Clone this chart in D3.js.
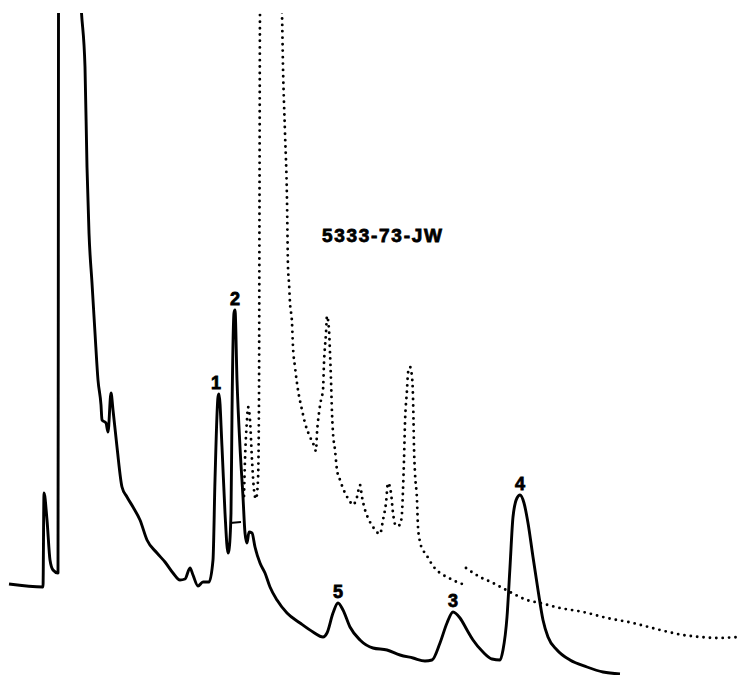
<!DOCTYPE html>
<html>
<head>
<meta charset="utf-8">
<script src="https://cdn.jsdelivr.net/npm/d3@7"></script>
<style>
  body { margin: 0; background: #fff; }
  svg { display: block; }
  .peak-label { font-family: "Liberation Sans", Arial, sans-serif; font-weight: bold; font-size: 18px; stroke: #000; stroke-width: 0.8px; }
  .sample-id { font-family: "Liberation Sans", Arial, sans-serif; font-weight: bold; font-size: 19px; letter-spacing: 1.7px; stroke: #000; stroke-width: 0.8px; }
</style>
</head>
<body>
<script>
// chromatogram traces: [retention time, detector response]
// the solid run
const solidTrace = [
  [0.9, 9.1], [4.3, 8.8], [4.4, 18.2], [4.7, 15.5], [5.0, 11.5], [5.3, 10.5], [5.8, 10.2],
  [5.83, 37.5], [5.85, 66.1], [7.0, 87.5], [8.15, 66.2], [8.5, 60.8], [8.7, 50.8], [8.9, 44.2],
  [9.2, 39.2], [9.5, 34.2], [9.8, 29.5], [10.1, 27.0], [10.2, 25.5], [10.6, 25.2], [10.8, 24.3],
  [11.1, 28.2], [11.3, 26.5], [11.7, 22.8], [12.2, 18.8], [12.7, 17.8], [13.3, 16.8], [14.0, 15.5],
  [14.7, 13.5], [15.7, 12.2], [16.5, 11.3], [17.3, 10.2], [18.0, 9.5], [18.5, 9.6], [19.0, 10.7],
  [19.3, 10.0], [19.8, 8.9], [20.3, 9.3], [20.9, 9.3], [21.3, 11.5], [21.5, 19.5], [21.8, 27.8],
  [21.9, 28.1], [22.2, 22.8], [22.5, 16.2], [22.8, 12.2], [22.9, 12.5], [23.1, 16.2], [23.2, 26.2],
  [23.4, 36.2], [23.5, 36.5], [23.7, 29.5], [24.0, 22.8], [24.3, 17.8], [24.5, 14.2], [24.7, 13.2],
  [24.9, 14.3], [25.2, 14.2], [25.5, 12.8], [26.0, 11.2], [26.5, 10.2], [27.0, 8.8], [27.7, 7.5],
  [28.7, 6.2], [30.0, 5.2], [31.3, 4.3], [32.3, 3.8], [32.7, 4.2], [33.3, 6.2], [33.8, 7.2],
  [34.3, 6.5], [35.0, 4.8], [36.0, 3.5], [37.3, 2.7], [38.7, 2.5], [40.0, 2.0], [41.3, 1.7],
  [42.5, 1.4], [43.2, 1.5], [44.0, 3.2], [44.7, 5.2], [45.3, 6.3], [46.0, 5.7], [46.7, 4.5],
  [47.3, 3.5], [48.3, 2.3], [49.2, 1.6], [50.0, 1.5], [50.3, 2.5], [50.7, 5.8], [51.0, 10.8],
  [51.3, 15.8], [51.7, 17.7], [52.0, 18.0], [52.4, 17.2], [52.8, 15.2], [53.3, 11.8], [53.8, 8.5],
  [54.3, 5.5], [54.8, 3.8], [55.7, 2.5], [57.0, 1.5], [58.7, 0.8], [60.3, 0.3], [62.0, 0.1]
];

// small pen mark next to peak 2
const penMark = [[23.0, 15.2], [24.1, 15.3]];

// the dotted overlay run, first stretch
const dottedTraceA = [
  [24.4, 17.9], [24.5, 21.5], [24.7, 25.5], [24.8, 26.8], [25.0, 25.5], [25.2, 21.5], [25.4, 18.5],
  [25.6, 17.6], [25.8, 19.5], [25.9, 27.5], [25.95, 47.5], [26.0, 66.1], [27.1, 87.5], [28.2, 66.1],
  [28.3, 60.8], [28.5, 54.2], [28.7, 47.5], [28.8, 40.8], [28.9, 39.2], [29.0, 37.2], [29.2, 35.2],
  [29.3, 32.8], [29.5, 30.8], [29.8, 28.5], [30.2, 26.5], [30.5, 25.2], [31.0, 23.8], [31.3, 23.2],
  [31.6, 22.4], [31.7, 24.2], [31.9, 26.2], [32.1, 27.5], [32.3, 28.5], [32.4, 31.2], [32.6, 34.2],
  [32.7, 35.9], [32.9, 34.5], [33.0, 32.2], [33.1, 29.5], [33.2, 26.2], [33.3, 24.2], [33.5, 22.5],
  [33.7, 20.5], [34.0, 19.5], [34.5, 18.2], [34.9, 17.5], [35.3, 17.0], [35.7, 17.8], [36.0, 19.0],
  [36.2, 17.8], [36.5, 16.5], [36.8, 15.7], [37.3, 14.8], [38.0, 14.1], [38.3, 15.5], [38.6, 17.2],
  [38.8, 19.2], [39.1, 18.2], [39.3, 16.2], [39.6, 14.9], [40.0, 15.0], [40.2, 16.2], [40.3, 18.5],
  [40.4, 21.5], [40.5, 25.2], [40.7, 28.5], [40.8, 30.2], [41.0, 30.8], [41.2, 29.8], [41.3, 27.8],
  [41.35, 25.5], [41.4, 22.8], [41.5, 20.2], [41.7, 17.5], [41.8, 14.8], [42.0, 13.3], [42.3, 12.5],
  [42.7, 11.9], [43.3, 10.9], [44.0, 10.2], [44.7, 9.8], [45.7, 9.3], [46.5, 9.0]
];

// second stretch (chart paper jump)
const dottedTraceB = [
  [46.6, 10.7], [48.0, 9.8], [49.3, 9.2], [51.0, 8.3], [52.7, 7.5], [54.0, 7.2], [56.0, 6.7],
  [58.3, 6.3], [60.7, 5.7], [63.3, 5.2], [66.0, 4.5], [68.3, 4.0], [70.0, 3.8], [71.7, 3.7],
  [73.8, 3.8]
];

const peakNames = ["1", "2", "5", "3", "4"];
const peakTimes = [21.9, 23.5, 33.8, 45.3, 52.0];
const peakHeights = [28.1, 36.5, 7.2, 6.3, 18.0];

const sampleId = "5333-73-JW";

let width = 741,
    height = 675;

let svg = d3.select("body")
            .append("svg")
            .attr("width", width)
            .attr("height", height);

let x = d3.scaleLinear()
          .domain([0, 74.1])
          .range([0, width]);

let y = d3.scaleLinear()
          .domain([0, 67.5])
          .range([height, 0]);

// paper edge: tall peaks run off the top
svg.append("clipPath")
    .attr("id", "paper")
  .append("rect")
    .attr("x", 0)
    .attr("y", 13)
    .attr("width", width)
    .attr("height", height - 13);

let line = d3.line()
    .x(d => x(d[0]))
    .y(d => y(d[1]))
    .curve(d3.curveMonotoneX);

let g = svg.append("g").attr("clip-path", "url(#paper)");

[dottedTraceA, dottedTraceB].forEach(tr => {
    g.append("path")
        .datum(tr)
        .attr("fill", "none")
        .attr("stroke", "#000")
        .attr("stroke-width", 2.9)
        .attr("stroke-linecap", "round")
        .attr("stroke-dasharray", "0,6.4")
        .attr("d", line);
});

g.append("path")
    .datum(solidTrace)
    .attr("fill", "none")
    .attr("stroke", "#000")
    .attr("stroke-width", 2.9)
    .attr("stroke-linejoin", "round")
    .attr("d", line);

g.append("path")
    .datum(penMark)
    .attr("fill", "none")
    .attr("stroke", "#000")
    .attr("stroke-width", 2)
    .attr("d", d3.line().x(d => x(d[0])).y(d => y(d[1])));

// peak numbers
svg.selectAll(".peak-label")
    .data(peakNames)
    .enter()
    .append("text")
        .attr("class", "peak-label")
        .attr("text-anchor", "middle")
        .attr("x", (d, i) => x(peakTimes[i]) + (d === "1" ? -3 : 0))
        .attr("y", (d, i) => y(peakHeights[i]) - 5)
        .text(d => d);

svg.append("text")
    .attr("class", "sample-id")
    .attr("x", x(32.2))
    .attr("y", y(43.3))
    .text(sampleId);
</script>
</body>
</html>
